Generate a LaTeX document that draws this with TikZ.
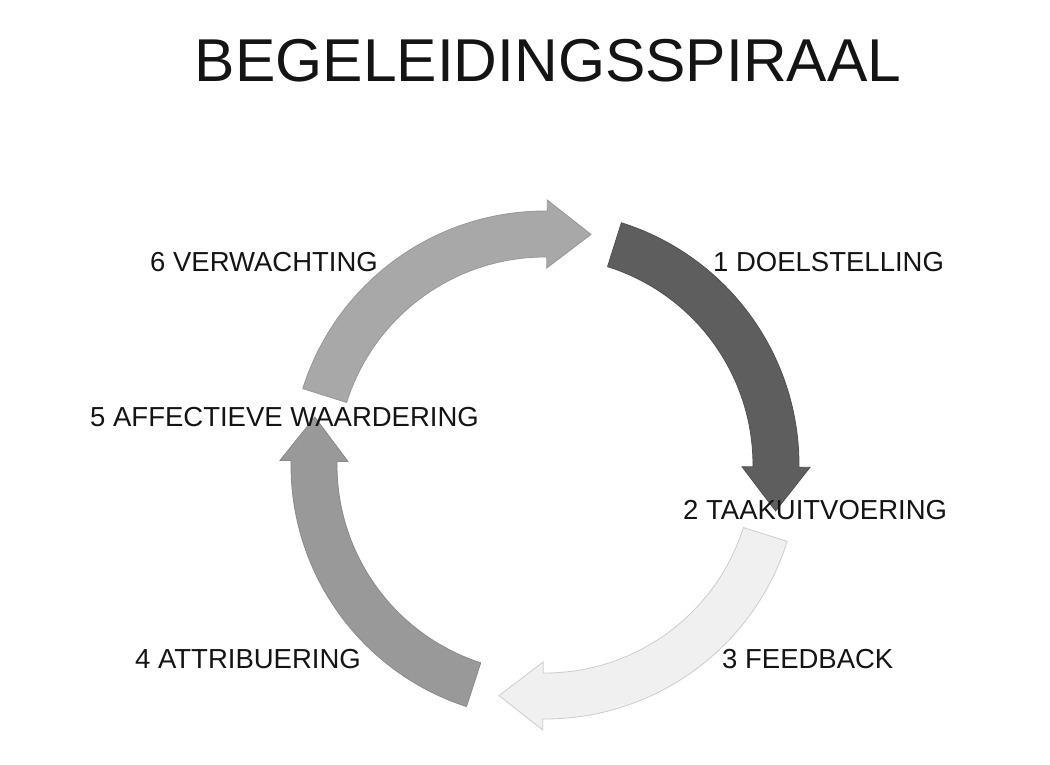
\documentclass[tikz,border=0pt]{standalone}
\usepackage{fontspec}
\setmainfont{Liberation Sans}
\usepackage{tikz}
\usetikzlibrary{arrows.meta}
\definecolor{pdark}{gray}{0.37}
\definecolor{plight}{gray}{0.94}
\definecolor{pmid}{gray}{0.60}
\definecolor{psoft}{gray}{0.66}
\definecolor{ptext}{gray}{0.08}
% one piece of the spiral: #1 = style, #2 = angle of the head base
\newcommand{\spiralpiece}[2]{%
	\begin{scope}[shift={(545,299)},rotate=#2]
		\path[#1] (73:254) arc[start angle=73,end angle=0,radius=254]
			-- (0:265) -- (231,-44) -- (0:197) -- (0:208)
			arc[start angle=0,end angle=73,radius=208] -- cycle;
	\end{scope}}

\begin{document}
\begin{tikzpicture}[x=1pt,y=1pt,
	piece/.style={line width=0.8pt,line join=miter},
	lbl/.style={anchor=base west,inner sep=0pt,text=ptext,
		font=\fontsize{27.5}{30}\selectfont},
	ttl/.style={anchor=base,inner sep=0pt,text=ptext,
		font=\fontsize{60.5}{66}\selectfont}]
	\useasboundingbox[fill=white] (0,0) rectangle (1050,764);
	
	\spiralpiece{piece,fill=pdark,draw=pdark!85!black}{-0.5}
	\spiralpiece{piece,fill=plight,draw=plight!85!black}{-90.5}
	\spiralpiece{piece,fill=pmid,draw=pmid!90!black}{179}
	\spiralpiece{piece,fill=psoft,draw=psoft!90!black}{89.5}
	
	\node[ttl] (titel)    at (548,682) {BEGELEIDINGSSPIRAAL};
	\node[lbl] (doel)     at (713,492) {1 DOELSTELLING};
	\node[lbl] (taak)     at (683,244) {2 TAAKUITVOERING};
	\node[lbl] (feedback) at (722,96)  {3 FEEDBACK};
	\node[lbl] (attr)     at (135,96)  {4 ATTRIBUERING};
	\node[lbl] (affect)   at (90,337)  {5 AFFECTIEVE WAARDERING};
	\node[lbl] (verw)     at (150,492) {6 VERWACHTING};
\end{tikzpicture}
\end{document}
